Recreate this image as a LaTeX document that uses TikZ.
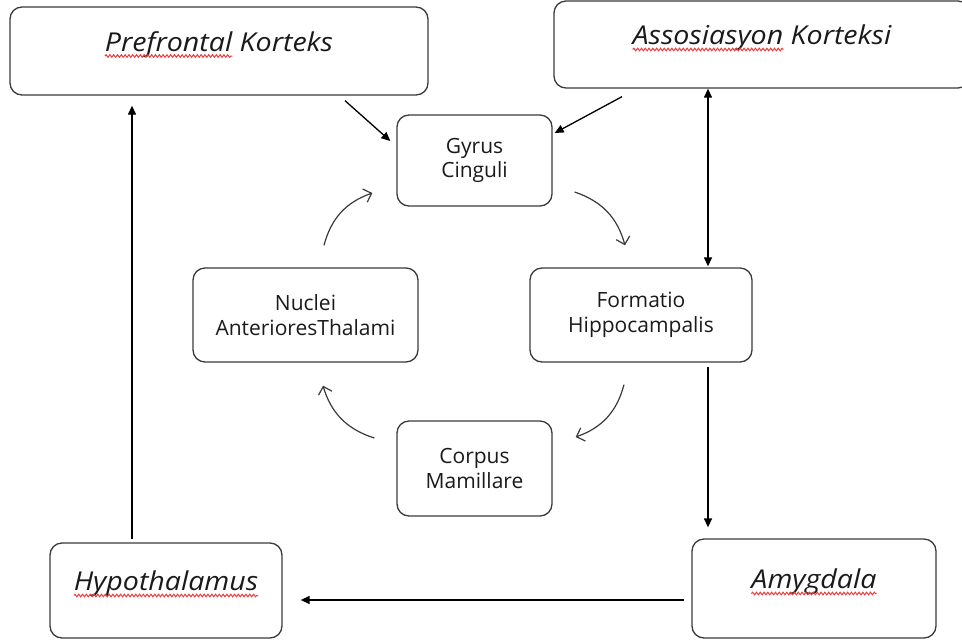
\documentclass[tikz,border=0pt]{standalone}
\usepackage{fontspec}
\setmainfont{Open Sans}
\newfontfamily\ttlfamily{Open Sans}[FakeStretch=1.1]
\usepackage{xcolor}
\usepackage{tikz}
\usetikzlibrary{calc,arrows.meta,decorations.pathmorphing}
\definecolor{edge}{HTML}{3A3A3A}
\definecolor{ink}{HTML}{1A1A1A}
\definecolor{squiggle}{HTML}{EE3B3B}
\newcommand\ttlfont{\ttlfamily\fontsize{26}{30}\selectfont\itshape}
\newcommand\boxfont{\fontsize{21}{24.5}\selectfont}
\newlength\wpfk \newlength\wpfkw
\newlength\wak \newlength\wakw
\newlength\why \newlength\wam
\tikzset{
  bigbox/.style={draw=edge, line width=1.3pt, rounded corners=12pt, inner sep=0pt,
    text=ink, font=\ttlfont, text height=12pt, text depth=12pt},
  smallbox/.style={draw=edge, line width=1.3pt, rounded corners=12pt, inner sep=0pt,
    text=ink, font=\boxfont, align=center},
  link/.style={draw=black, line width=1.3pt, -{Triangle[length=9pt,width=8pt]}},
  dlink/.style={draw=black, line width=1.3pt, {Triangle[length=9pt,width=8pt]}-{Triangle[length=9pt,width=8pt]}},
  cyc/.style={draw=edge, line width=1.2pt, -{Straight Barb[length=7pt,width=14pt]}},
  squig/.style={draw=squiggle, line width=1pt, decorate,
    decoration={snake, amplitude=1.3pt, segment length=3.8pt}},
}

\begin{document}
\settowidth{\wpfk}{\ttlfont Prefrontal Korteks}\settowidth{\wpfkw}{\ttlfont Prefrontal}%
\settowidth{\wak}{\ttlfont Assosiasyon Korteksi}\settowidth{\wakw}{\ttlfont Assosiasyon}%
\settowidth{\why}{\ttlfont Hypothalamus}\settowidth{\wam}{\ttlfont Amygdala}%
\begin{tikzpicture}[x=1pt, y=-1pt]
  \useasboundingbox (0,0) rectangle (962,641);
  % outer boxes
  \node[bigbox, minimum width=418pt, minimum height=88pt] (pfk) at (219,51) {Prefrontal Korteks};
  \node[bigbox, minimum width=416pt, minimum height=87pt] (ak) at (762,44.5) {Assosiasyon Korteksi};
  \node[bigbox, minimum width=232pt, minimum height=95pt] (hy) at (166,590.5) {Hypothalamus};
  \node[bigbox, minimum width=244pt, minimum height=99pt] (am) at (814,588.5) {Amygdala};
  % inner cycle
  \node[smallbox, minimum width=155pt, minimum height=91pt] (gc) at (474.5,160.5) {Gyrus\\Cinguli};
  \node[smallbox, minimum width=222pt, minimum height=94pt] (fh) at (641,315) {Formatio\\Hippocampalis};
  \node[smallbox, minimum width=155pt, minimum height=95pt] (cm) at (474.5,468.5) {Corpus\\Mamillare};
  \node[smallbox, minimum width=225pt, minimum height=94pt] (na) at (305.5,315) {Nuclei\\AnterioresThalami};

  \draw[cyc] ($(gc.east)+(22,31.5)$) to[bend left=28] ($(fh.north)+(-16,-22)$);
  \draw[cyc] ($(fh.south)+(-17,22)$) to[bend left=28] ($(cm.east)+(23,-31.5)$);
  \draw[cyc] ($(cm.west)+(-22,-30.5)$) to[bend left=28] ($(na.south)+(17.5,23)$);
  \draw[cyc] ($(na.north)+(18.5,-22)$) to[bend left=28] ($(gc.west)+(-24,32.5)$);

  % straight links
  \draw[link] ($(pfk.south)+(126,5)$) -- ($(gc.west)+(-6,-19.5)$);
  \draw[link] ($(ak.south)+(-140,8)$) -- ($(gc.east)+(2,-27.5)$);
  \coordinate (fx) at ($(fh.north)+(67,-1)$);
  \draw[dlink] (fx) -- (fx |- ak.south);
  \draw[link] ($(fh.south)+(67,4)$) -- ($(am.north)+(-106,-11)$);
  \draw[link] ($(am.west)+(-7,11.5)$) -- ($(hy.east)+(18,9.5)$);
  \draw[link] ($(hy.north)+(-34,-3)$) -- ($(pfk.south)+(-87,10)$);

  % spelling marks
  \draw[squig] (pfk.base) ++(-0.5\wpfk,-5pt) -- ++(\wpfkw,0pt);
  \draw[squig] (ak.base) ++(-0.5\wak,-5pt) -- ++(\wakw,0pt);
  \draw[squig] (hy.base) ++(-0.5\why,-5pt) -- ++(\why,0pt);
  \draw[squig] (am.base) ++(-0.5\wam,-5pt) -- ++(\wam,0pt);
\end{tikzpicture}
\end{document}
